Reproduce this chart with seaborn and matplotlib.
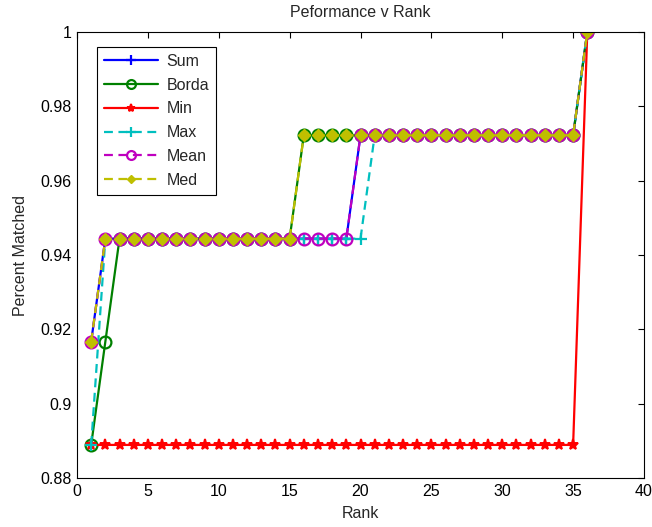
import numpy as np
import pandas as pd
import matplotlib
matplotlib.use("Agg")
import matplotlib.pyplot as plt
import seaborn as sns

# Rank positions and fraction of queries matched at each rank
rank = list(range(1, 37))

sum_vals = [0.9167] + [0.9444] * 18 + [0.9722] * 16 + [1.0]
borda_vals = [0.8889, 0.9167] + [0.9444] * 13 + [0.9722] * 20 + [1.0]
min_vals = [0.8889] * 35 + [1.0]
max_vals = [0.8889] + [0.9444] * 19 + [0.9722] * 15 + [1.0]
mean_vals = [0.9167] + [0.9444] * 18 + [0.9722] * 16 + [1.0]
med_vals = [0.9167] + [0.9444] * 14 + [0.9722] * 20 + [1.0]

series_names = ["Sum", "Borda", "Min", "Max", "Mean", "Med"]
series_values = [sum_vals, borda_vals, min_vals, max_vals, mean_vals, med_vals]

styles = {
    "Sum":  dict(color=(0, 0, 1), ls="-", marker="+", ms=9, mew=1.6, mfc="none"),
    "Borda": dict(color=(0, 0.5, 0), ls="-", marker="o", ms=8.5, mew=1.6, mfc="none"),
    "Min":  dict(color=(1, 0, 0), ls="-", marker="*", ms=8, mew=1.4, mfc=(1, 0, 0)),
    "Max":  dict(color=(0, 0.75, 0.75), ls="--", marker="+", ms=9, mew=1.6, mfc="none"),
    "Mean": dict(color=(0.75, 0, 0.75), ls="--", marker="o", ms=8.5, mew=1.6, mfc="none"),
    "Med":  dict(color=(0.75, 0.75, 0), ls="--", marker="D", ms=6, mew=1.0, mfc=(0.75, 0.75, 0)),
}

df = pd.DataFrame({"Rank": rank})
for name, vals in zip(series_names, series_values):
    df[name] = vals

sns.set_style("white")
plt.rcParams["font.family"] = ["Liberation Sans", "DejaVu Sans"]
fs = 11.5
plt.rcParams["font.size"] = fs

fig = plt.figure(figsize=(6.52, 5.27), dpi=100)
ax = fig.add_axes([77 / 652, 1 - 478 / 527, (644 - 77) / 652, (478 - 32) / 527])

for name in series_names:
    st = styles[name]
    sns.lineplot(data=df, x="Rank", y=name, ax=ax, color=st["color"],
                 linestyle=st["ls"], linewidth=1.6, marker=st["marker"],
                 markersize=st["ms"], markeredgewidth=st["mew"],
                 markerfacecolor=st["mfc"], markeredgecolor=st["color"],
                 label=name)
    line = ax.get_lines()[-1]
    line.set_linestyle(st["ls"])
    if st["ls"] == "--":
        line.set_dashes([4, 2.5])

ax.set_xlim(0, 40)
ax.set_ylim(0.88, 1.0)
ax.set_xticks(np.arange(0, 41, 5))
ax.set_yticks([0.88, 0.9, 0.92, 0.94, 0.96, 0.98, 1.0])
ax.set_yticklabels(["0.88", "0.9", "0.92", "0.94", "0.96", "0.98", "1"])
ax.tick_params(direction="in", length=4, width=0.8, top=True, right=True,
               labelsize=fs, colors="black", pad=4)
for sp in ax.spines.values():
    sp.set_color("black")
    sp.set_linewidth(0.8)

ax.set_xlabel("Rank", fontsize=fs, labelpad=5)
ax.set_ylabel("Percent Matched", fontsize=fs, labelpad=9)
ax.set_title("Peformance v Rank", fontsize=fs, pad=11)

leg = ax.legend(loc="upper left", bbox_to_anchor=(0.035, 0.967), borderaxespad=0,
                fancybox=False, framealpha=1, edgecolor="black", fontsize=fs,
                handlelength=3.4, handletextpad=0.5, labelspacing=0.55,
                borderpad=0.45, markerscale=0.75)
leg.get_frame().set_linewidth(0.8)

fig.savefig("out.png", dpi=100)
